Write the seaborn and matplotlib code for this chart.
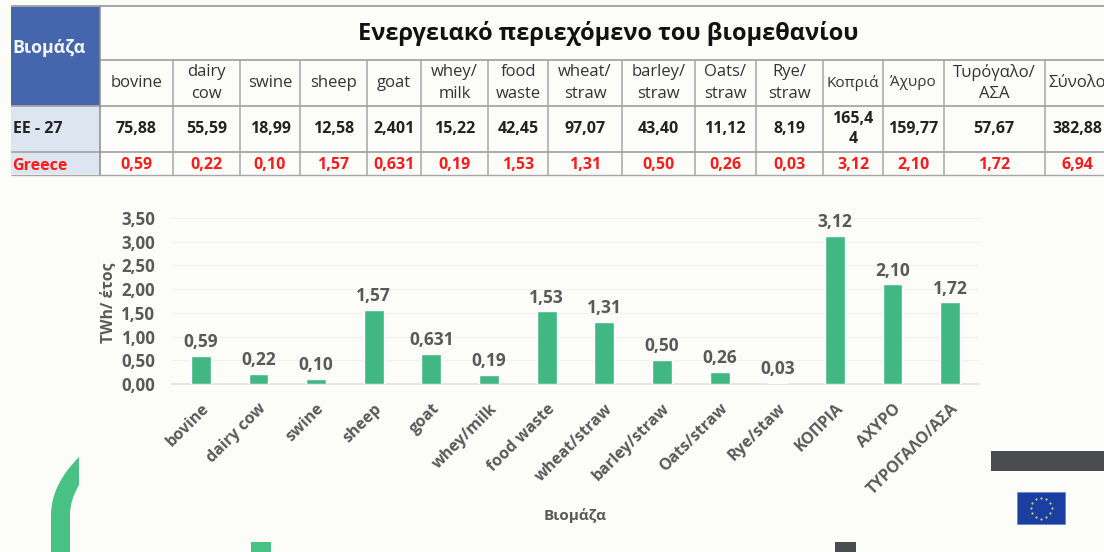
import matplotlib
matplotlib.use("Agg")
import matplotlib.pyplot as plt
from matplotlib.patches import Rectangle, PathPatch
from matplotlib.path import Path
from matplotlib.transforms import ScaledTranslation
import numpy as np
import pandas as pd
import seaborn as sns

# ---------- data ----------
categories = ["bovine", "dairy cow", "swine", "sheep", "goat", "whey/milk", "food waste",
              "wheat/straw", "barley/straw", "Oats/straw", "Rye/staw", "ΚΟΠΡΙΑ", "ΑΧΥΡΟ",
              "ΤΥΡΟΓΑΛΟ/ΑΣΑ"]
greece_values = [0.59, 0.22, 0.10, 1.57, 0.631, 0.19, 1.53, 1.31, 0.50, 0.26, 0.03, 3.12, 2.10, 1.72]
bar_labels = ["0,59", "0,22", "0,10", "1,57", "0,631", "0,19", "1,53", "1,31", "0,50", "0,26",
              "0,03", "3,12", "2,10", "1,72"]
y_ticks = [0, 0.5, 1.0, 1.5, 2.0, 2.5, 3.0, 3.5]
y_tick_labels = ["0,00", "0,50", "1,00", "1,50", "2,00", "2,50", "3,00", "3,50"]

table_title = "Ενεργειακό περιεχόμενο του βιομεθανίου"
table_corner = "Βιομάζα"
table_header = ["bovine", "dairy\ncow", "swine", "sheep", "goat", "whey/\nmilk", "food\nwaste",
                "wheat/\nstraw", "barley/\nstraw", "Oats/\nstraw", "Rye/\nstraw", "Κοπριά", "Άχυρο",
                "Τυρόγαλο/\nΑΣΑ", "Σύνολο"]
row_eu_name = "ΕΕ - 27"
row_eu = ["75,88", "55,59", "18,99", "12,58", "2,401", "15,22", "42,45", "97,07", "43,40", "11,12",
          "8,19", "165,4\n4", "159,77", "57,67", "382,88"]
row_gr_name = "Greece"
row_gr = ["0,59", "0,22", "0,10", "1,57", "0,631", "0,19", "1,53", "1,31", "0,50", "0,26", "0,03",
          "3,12", "2,10", "1,72", "6,94"]

# ---------- layout (pixels) ----------
W, H = 1104, 552
col_edges = [100, 173, 240, 300, 367, 421, 488, 548, 622, 695, 755.5, 823, 883, 943.5, 1045, 1110]
BG = "#FCFDF9"
GREEN = "#41B883"
GREY_TXT = "#595959"
LINE = "#A6A6A6"

sns.set_theme(style="white")
plt.rcParams["font.family"] = ["Open Sans", "Noto Sans", "DejaVu Sans"]

fig = plt.figure(figsize=(W / 100, H / 100), dpi=100, facecolor=BG)

# overlay in pixel coordinates
ov = fig.add_axes([0, 0, 1, 1], zorder=0)
ov.set_xlim(0, W)
ov.set_ylim(H, 0)
ov.axis("off")

# ---------- table ----------
ov.add_patch(Rectangle((11, 6), 89, 100, fc="#4566AC", ec="none"))
ov.add_patch(Rectangle((11, 106), 89, 68, fc="#DCE5F0", ec="none"))
for y, lw in [(5.5, 1.4), (60, 1.3), (106, 1.3), (151.5, 1.3), (174.5, 1.0)]:
    ov.plot([100 if y == 60 else 11, W], [y, y], color=LINE, lw=lw, solid_capstyle="butt")
for i, x in enumerate(col_edges[:-1]):
    ov.plot([x, x], [6 if i == 0 else 60, 174.5], color=LINE if i else "#8C8C8C", lw=1.1,
            solid_capstyle="butt")

ov.text(608, 33, table_title, ha="center", va="center", fontsize=17, fontweight="bold", color="#111111")
ov.text(48.5, 48, table_corner, ha="center", va="center", fontsize=12.8, fontweight="bold", color="#F2F5FA")
ov.text(13, 129, row_eu_name, ha="left", va="center", fontsize=11.5, fontweight="bold", color="#222222")
ov.text(12, 165.5, row_gr_name, ha="left", va="center", fontsize=11.5, fontweight="bold", color="#FF1A1A",
        family="Open Sans")
for j, (h, e, g) in enumerate(zip(table_header, row_eu, row_gr)):
    cx = (col_edges[j] + col_edges[j + 1]) / 2
    fs = 11 if j in (11, 12) else 12
    ov.text(cx, 83, h, ha="center", va="center", fontsize=fs, color="#333333", linespacing=1.47)
    ov.text(cx, 129, e, ha="center", va="center", fontsize=11.5, fontweight="bold", color="#222222", linespacing=1.4)
    ov.text(cx, 165, g, ha="center", va="center", fontsize=11.5, fontweight="bold", color="#FF1A1A")

# ---------- decoration ----------
arc = Path([(51, 552), (51, 515), (51, 485), (79, 457), (79, 485), (70, 500), (70, 515), (70, 552), (51, 552)],
           [Path.MOVETO, Path.LINETO, Path.CURVE3, Path.CURVE3, Path.LINETO, Path.CURVE3, Path.CURVE3,
            Path.LINETO, Path.CLOSEPOLY])
ov.add_patch(PathPatch(arc, fc="#48C184", ec="none"))
ov.add_patch(Rectangle((251, 542), 20, 10, fc="#48C184", ec="none"))
ov.add_patch(Rectangle((835, 542), 21, 10, fc="#4A4D50", ec="none"))
ov.add_patch(Rectangle((991, 451), 113, 20, fc="#4A4D50", ec="none"))
ov.add_patch(Rectangle((1017, 492), 48, 32, fc="#1B3FA0", ec="#6F86C4", lw=0.6))
a = np.arange(12) * np.pi / 6
ov.scatter(1041 + 10.5 * np.cos(a), 508 + 10.5 * np.sin(a), s=2.5, color="#D9CF7A", linewidths=0)

# ---------- chart ----------
left, right, top, bottom = 172, 979, 218, 384
ax = fig.add_axes([left / W, 1 - bottom / H, (right - left) / W, (bottom - top) / H], zorder=1)
ax.patch.set_alpha(0)
df = pd.DataFrame({"Βιομάζα": categories, "TWh": greece_values})
sns.barplot(data=df, x="Βιομάζα", y="TWh", order=categories, color=GREEN, saturation=1, width=0.345, ax=ax, zorder=3)
ax.set_ylim(0, 3.5)
ax.set_yticks(y_ticks)
ax.set_yticklabels(y_tick_labels, fontsize=12.2, fontweight="bold", color=GREY_TXT)
ax.set_xticks(range(len(categories)))
ax.set_xticklabels(categories, rotation=45, ha="right", rotation_mode="anchor", fontsize=11.5,
                   fontweight="bold", color=GREY_TXT)
shift = ScaledTranslation(-3 / 72 * 0.72, 0, fig.dpi_scale_trans)
for lab in ax.get_xticklabels():
    lab.set_transform(lab.get_transform() + shift)
ax.tick_params(axis="y", length=0, pad=12)
ax.tick_params(axis="x", length=0, pad=12)
ax.grid(axis="y", color="#F0F1ED", lw=0.8)
ax.set_axisbelow(True)
for s in ["top", "right", "left"]:
    ax.spines[s].set_visible(False)
ax.spines["bottom"].set_color("#E2E2E0")
ax.spines["bottom"].set_zorder(1)
ax.bar_label(ax.containers[0], labels=bar_labels, padding=3.5, fontsize=12.5, fontweight="bold", color=GREY_TXT)
ax.set_xlabel("")
ax.set_ylabel("")
ov.text(108, 303, "TWh/ έτος", rotation=90, ha="center", va="center", fontsize=11.3, fontweight="bold", color=GREY_TXT)
ov.text(575, 516, "Βιομάζα", ha="center", va="center", fontsize=11, fontweight="bold", color=GREY_TXT)

fig.savefig("out.png", dpi=100, facecolor=BG)
